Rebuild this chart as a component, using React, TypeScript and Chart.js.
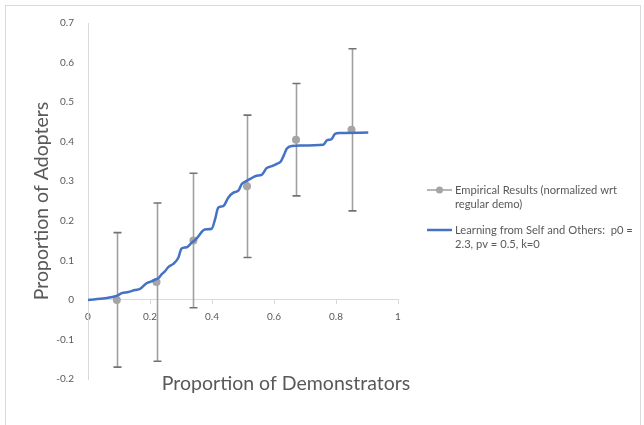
import React, { useEffect, useRef } from "react";
import { Chart, registerables } from "chart.js";

Chart.register(...registerables);

// Empirical results
const empX = [0.093, 0.221, 0.34, 0.513, 0.671, 0.85];
const empY = [0.0, 0.045, 0.15, 0.287, 0.405, 0.43];
const empErr = [0.17, 0.2, 0.17, 0.18, 0.142, 0.205];

// Model curve: Learning from Self and Others
const modelX = [0, 0.055, 0.092, 0.109, 0.13, 0.152, 0.168, 0.189, 0.205, 0.216, 0.227, 0.238, 0.248, 0.259, 0.275, 0.291, 0.302, 0.318, 0.334, 0.35, 0.377, 0.399, 0.41, 0.42, 0.436, 0.453, 0.469, 0.485, 0.496, 0.512, 0.528, 0.544, 0.56, 0.576, 0.593, 0.609, 0.622, 0.632, 0.641, 0.657, 0.684, 0.759, 0.77, 0.786, 0.797, 0.813, 0.904];
const modelY = [0, 0.004, 0.01, 0.017, 0.02, 0.025, 0.028, 0.042, 0.047, 0.051, 0.055, 0.065, 0.072, 0.083, 0.091, 0.106, 0.13, 0.133, 0.144, 0.155, 0.178, 0.18, 0.204, 0.233, 0.237, 0.259, 0.271, 0.276, 0.293, 0.301, 0.308, 0.314, 0.316, 0.333, 0.338, 0.344, 0.35, 0.366, 0.382, 0.389, 0.39, 0.392, 0.403, 0.407, 0.42, 0.422, 0.423];

// Axes
const xMin = 0, xMax = 1, xStep = 0.2;
const yMin = -0.2, yMax = 0.7, yStep = 0.1;
const xTitle = "Proportion of Demonstrators";
const yTitle = "Proportion of Adopters";
const legendLines = [
  ["Empirical Results (normalized wrt", "regular demo)"],
  ["Learning from Self and Others:  p0 =", "2.3, pv = 0.5, k=0"],
];

const FONT = "Lato, 'Open Sans', sans-serif";
const TEXT = "#595959";
const AXIS = "#d9d9d9";
const BLUE = "#4472c4";
const GRAY = "#a5a5a5";

const fmt = (v: number) => {
  const n = Number(Number(v).toFixed(1));
  return String(n);
};

export default function App() {
  const ref = useRef<HTMLCanvasElement | null>(null);
  useEffect(() => {
    if (!ref.current) return;
    const decor = {
      id: "decor",
      beforeDraw(chart: any) {
        const ctx = chart.ctx;
        ctx.save();
        ctx.fillStyle = "#ffffff";
        ctx.fillRect(0, 0, chart.width, chart.height);
        ctx.strokeStyle = AXIS;
        ctx.lineWidth = 1;
        ctx.strokeRect(5.5, 5.5, 635, 440);
        ctx.restore();
      },
      beforeDatasetsDraw(chart: any) {
        const ctx = chart.ctx;
        const xs = chart.scales.x;
        const ys = chart.scales.y;
        ctx.save();
        for (let i = 0; i < empX.length; i++) {
          const px = Math.round(xs.getPixelForValue(empX[i])) + 0.5;
          const top = ys.getPixelForValue(empY[i] + empErr[i]);
          const bot = ys.getPixelForValue(empY[i] - empErr[i]);
          ctx.strokeStyle = "#a0a0a0";
          ctx.lineWidth = 1.6;
          ctx.beginPath();
          ctx.moveTo(px, top);
          ctx.lineTo(px, bot);
          ctx.stroke();
          ctx.strokeStyle = "#727272";
          ctx.beginPath();
          ctx.moveTo(px - 4, top);
          ctx.lineTo(px + 4, top);
          ctx.moveTo(px - 4, bot);
          ctx.lineTo(px + 4, bot);
          ctx.stroke();
        }
        ctx.restore();
      },
      afterDraw(chart: any) {
        const ctx = chart.ctx;
        ctx.save();
        // x axis title
        ctx.fillStyle = TEXT;
        ctx.font = `19.5px ${FONT}`;
        ctx.textAlign = "center";
        ctx.textBaseline = "middle";
        ctx.fillText(xTitle, 286, 384);
        // legend
        const lx = 427, tx = 455;
        const rows = [190, 230];
        ctx.font = `11.2px ${FONT}`;
        ctx.textAlign = "left";
        rows.forEach((ry, k) => {
          ctx.strokeStyle = k === 0 ? GRAY : BLUE;
          ctx.lineWidth = k === 0 ? 1.6 : 2.5;
          ctx.beginPath();
          ctx.moveTo(lx, ry);
          ctx.lineTo(lx + 25, ry);
          ctx.stroke();
          if (k === 0) {
            ctx.fillStyle = GRAY;
            ctx.beginPath();
            ctx.arc(lx + 12.5, ry, 3.5, 0, Math.PI * 2);
            ctx.fill();
          }
          ctx.fillStyle = TEXT;
          legendLines[k].forEach((t, j) => ctx.fillText(t, tx, ry + j * 14));
        });
        ctx.restore();
      },
    };
    const chart = new Chart(ref.current, {
      type: "scatter",
      data: {
        datasets: [
          {
            label: legendLines[0].join(" "),
            data: empX.map((x, i) => ({ x, y: empY[i] })),
            showLine: false,
            pointRadius: 4,
            pointHoverRadius: 4,
            pointBackgroundColor: GRAY,
            pointBorderWidth: 0,
            order: 1,
          },
          {
            label: legendLines[1].join(" "),
            data: modelX.map((x, i) => ({ x, y: modelY[i] })),
            showLine: true,
            borderColor: BLUE,
            borderWidth: 2.5,
            pointRadius: 0,
            cubicInterpolationMode: "monotone",
            order: 0,
          },
        ],
      },
      options: {
        responsive: false,
        animation: false,
        layout: { padding: { left: 0, top: 23, right: 246, bottom: 46 } },
        plugins: { legend: { display: false }, tooltip: { enabled: false } },
        scales: {
          x: {
            type: "linear",
            min: xMin,
            max: xMax,
            position: { y: 0 } as any,
            afterFit: (s: any) => { s.height = 0; },
            grid: { drawOnChartArea: false, drawTicks: true, tickLength: 4, color: AXIS },
            border: { display: true, color: AXIS, width: 1 },
            ticks: {
              stepSize: xStep,
              padding: 7,
              color: TEXT,
              font: { family: FONT, size: 10 },
              maxRotation: 0,
              callback: (v: any) => fmt(v),
            },
          },
          y: {
            type: "linear",
            min: yMin,
            max: yMax,
            afterFit: (s: any) => { s.width = 88; },
            grid: { display: false },
            border: { display: true, color: AXIS, width: 1 },
            title: {
              display: true,
              text: yTitle,
              color: TEXT,
              font: { family: FONT, size: 19.5 },
              padding: { top: 30, bottom: 0 },
            },
            ticks: {
              stepSize: yStep,
              padding: 6,
              color: TEXT,
              font: { family: FONT, size: 10 },
              callback: (v: any) => fmt(v),
            },
          },
        },
      },
      plugins: [decor],
    });
    return () => chart.destroy();
  }, []);
  return (
    <div style={{ position: "absolute", left: 0, top: 0, width: 644, height: 425 }}>
      <canvas ref={ref} width={644} height={425} style={{ display: "block" }} />
    </div>
  );
}
